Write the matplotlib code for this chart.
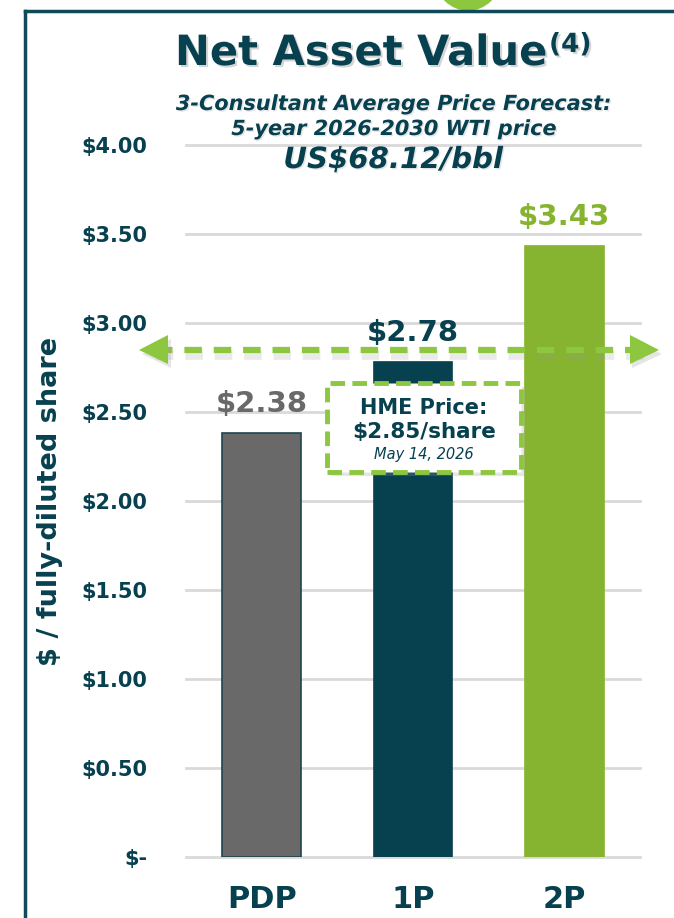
import numpy as np
import matplotlib
matplotlib.use('Agg')
import matplotlib.pyplot as plt
import matplotlib.patheffects as pe
from matplotlib.patches import Ellipse, Rectangle
from matplotlib.transforms import blended_transform_factory

# Data
categories = ['PDP', '1P', '2P']
nav_values = [2.38, 2.78, 3.43]
hme_price = 2.85
y_ticks = [0, 0.5, 1.0, 1.5, 2.0, 2.5, 3.0, 3.5, 4.0]

# Colours
teal = '#07404F'
gray = '#696969'
green_bar = '#86B430'
green_line = '#8DC63F'
bar_colors = [gray, teal, green_bar]
label_colors = [gray, teal, green_bar]

plt.rcParams['font.family'] = 'DejaVu Sans'

fig = plt.figure(figsize=(6.74, 9.18), dpi=100)
W, H = 674, 918

def fx(px):
    return px / W

def fy(py):
    return 1 - py / H

# frame lines and decorative green circle
fig.add_artist(plt.Line2D([fx(25), fx(25)], [fy(11), 0], color='#0F4A5A', lw=2.5))
fig.add_artist(plt.Line2D([fx(25), 1], [fy(11), fy(11)], color='#0F4A5A', lw=2.5))
fig.add_artist(Ellipse((fx(468), fy(-22)), 64 / W, 64 / H, color=green_line, zorder=0))

ax = fig.add_axes([fx(186), 61 / H, 454 / W, 712 / H])
x = np.arange(len(categories))
bars = ax.bar(x, nav_values, width=0.52, color=bar_colors, zorder=3,
              edgecolor=['#1E4450', teal, green_bar], linewidth=1.2)

ax.set_xlim(-0.5, 2.5)
ax.set_ylim(0, 4.0)
ax.set_yticks(y_ticks)
ax.set_yticklabels(['$-' if v == 0 else '${:.2f}'.format(v) for v in y_ticks])
ax.set_xticks(x)
ax.set_xticklabels(categories)
for s in ax.spines.values():
    s.set_visible(False)
ax.tick_params(axis='y', length=0, pad=28, labelsize=15, labelcolor=teal)
ax.tick_params(axis='x', length=0, pad=20, labelsize=22, labelcolor=teal)
for lbl in ax.get_yticklabels() + ax.get_xticklabels():
    lbl.set_fontweight('bold')
ax.yaxis.grid(True, color='#D9D9D9', lw=2, zorder=0)
for gl in ax.get_ygridlines():
    gl.set_clip_on(False)
ax.set_axisbelow(True)

ax.set_ylabel('$ / fully-diluted share', fontsize=19.5, fontweight='bold', color=teal)
ax.yaxis.set_label_coords(fx(63 - 186) / (454 / W), 0.5)

# value labels
for xi, v, c in zip(x, nav_values, label_colors):
    ax.annotate('${:.2f}'.format(v), (xi, v), xytext=(0, 11), textcoords='offset points',
                ha='center', va='bottom', fontsize=21, fontweight='bold', color=c, zorder=5)

# HME price dashed line with arrows
shadow = [pe.SimpleLineShadow(offset=(1, -3.5), shadow_color='#999999', alpha=0.2, linewidth=7), pe.Normal()]
trans = blended_transform_factory(ax.transAxes, ax.transData)
x0, x1 = (141 - 186) / 454, (657 - 186) / 454
ax.plot([x0 + 0.03, x1 - 0.03], [hme_price, hme_price], transform=trans, color=green_line,
        lw=4.5, ls=(0, (2.8, 1.9)), clip_on=False, zorder=6, path_effects=shadow)
tri_fx = [pe.SimplePatchShadow(offset=(2, -3), shadow_rgbFace='#999999', alpha=0.25), pe.Normal()]
ax.plot([x0 + 0.028], [hme_price], transform=trans, marker='<', ms=21, color=green_line,
        mew=0, clip_on=False, zorder=7, path_effects=tri_fx)
ax.plot([x1 - 0.028], [hme_price], transform=trans, marker='>', ms=21, color=green_line,
        mew=0, clip_on=False, zorder=7, path_effects=tri_fx)

# HME price box
bx0, bx1 = 0.432, 1.714
by0, by1 = 2.163, 2.663
box = Rectangle((bx0, by0), bx1 - bx0, by1 - by0, facecolor='white', edgecolor=green_line,
                lw=3.5, ls=(0, (3, 1.5)), zorder=8,
                path_effects=[pe.SimplePatchShadow(offset=(3, -3), shadow_rgbFace='#999999', alpha=0.25), pe.Normal()])
ax.add_patch(box)
bxc = (bx0 + bx1) / 2
ax.text(bxc, 2.52, 'HME Price:', ha='center', va='center', fontsize=15, fontweight='bold',
        color=teal, zorder=9)
ax.text(bxc, 2.385, '${:.2f}/share'.format(hme_price), ha='center', va='center', fontsize=15.5,
        fontweight='bold', color=teal, zorder=9)
ax.text(bxc, 2.26, 'May 14, 2026', ha='center', va='center', fontsize=10.5, style='italic',
        color=teal, zorder=9)

# Title
title_shadow = [pe.withSimplePatchShadow(offset=(1.5, -1.5), shadow_rgbFace='#888888', alpha=0.35)]
fig.text(fx(547), fy(65), 'Net Asset Value', ha='right', va='baseline', fontsize=30,
         fontweight='bold', color=teal, path_effects=title_shadow)
fig.text(fx(549), fy(52), '(4)', ha='left', va='baseline', fontsize=19,
         fontweight='bold', color=teal, path_effects=title_shadow)

sub_shadow = [pe.withSimplePatchShadow(offset=(1, -1), shadow_rgbFace='#aaaaaa', alpha=0.3)]
fig.text(fx(394), fy(104), '3-Consultant Average Price Forecast:', ha='center', va='center',
         fontsize=15, fontweight='bold', style='italic', color=teal, path_effects=sub_shadow)
fig.text(fx(394), fy(129), '5-year 2026-2030 WTI price', ha='center', va='center',
         fontsize=15, fontweight='bold', style='italic', color=teal, path_effects=sub_shadow)
fig.text(fx(393), fy(160), 'US$68.12/bbl', ha='center', va='center',
         fontsize=21, fontweight='bold', style='italic', color=teal, path_effects=sub_shadow)

fig.savefig('out.png', dpi=100)
